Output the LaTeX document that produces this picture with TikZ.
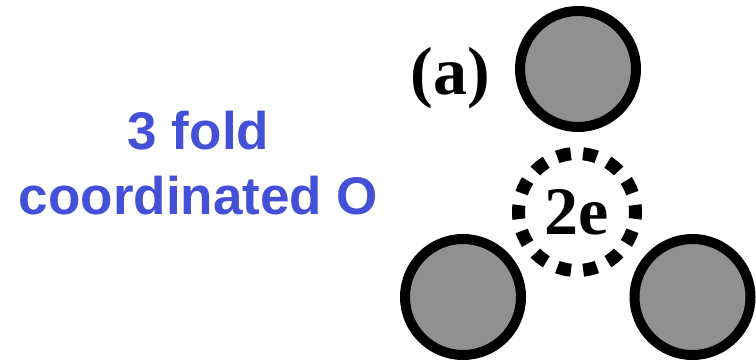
\documentclass[tikz,border=0pt]{standalone}
\usepackage{fontspec}
\setmainfont{Liberation Serif}
\newfontfamily\labelsans{Liberation Sans}
\definecolor{atomgray}{HTML}{909090}
\definecolor{textblue}{HTML}{4450D6}
\begin{document}
\begin{tikzpicture}[x=1pt,y=-1pt,
  atom/.style={circle, draw=black, line width=10pt, fill=atomgray, minimum size=116pt, inner sep=0pt},
  pairbox/.style={circle, draw=black, line width=13pt, dash pattern=on 14pt off 12.26pt, dash phase=7pt, minimum size=117pt, inner sep=0pt, font=\fontsize{68}{68}\selectfont\bfseries},
  biglabel/.style={font=\fontsize{68}{68}\selectfont\bfseries},
  bluetext/.style={text=textblue, align=center, font=\labelsans\fontsize{53}{65}\selectfont\bfseries}]
\useasboundingbox (0,0) rectangle (756,362);
\node[atom] (top) at (578,69) {};
\node[atom] (bl) at (463,297) {};
\node[atom] (br) at (692.5,297) {};
\node[pairbox] (pair) at (577,212) {2e};
\node[biglabel] (lab) at (450.5,78) {(a)};
\node[bluetext] (desc) at (198.5,163) {3 fold\\coordinated O};
\end{tikzpicture}
\end{document}
